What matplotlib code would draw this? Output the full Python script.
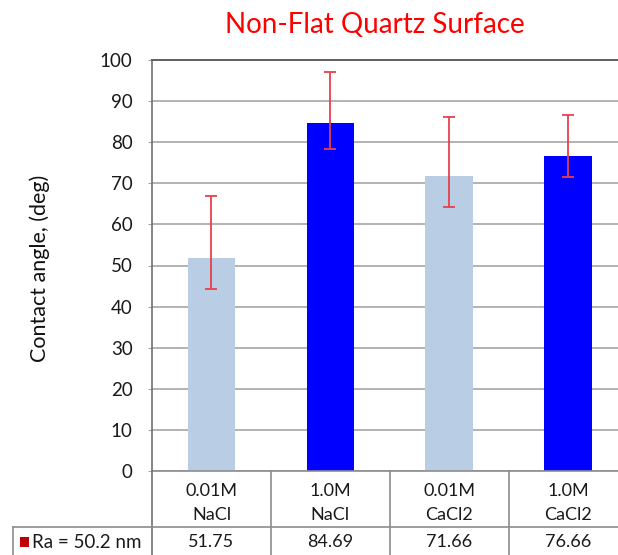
import matplotlib
matplotlib.use("Agg")
import matplotlib.pyplot as plt
from matplotlib.lines import Line2D
from matplotlib.patches import Rectangle
import matplotlib.transforms as mtransforms
import numpy as np

# Data
concentrations = ["0.01M", "1.0M", "0.01M", "1.0M"]
salts = ["NaCl", "NaCl", "CaCl2", "CaCl2"]
contact_angle = [51.75, 84.69, 71.66, 76.66]
err_low = [7.5, 6.4, 7.4, 5.1]
err_high = [15.2, 12.4, 14.4, 10.0]
series_name = "Ra = 50.2 nm"
yticks = [0, 10, 20, 30, 40, 50, 60, 70, 80, 90, 100]

bar_colors = ["#B9CDE5", "#0000FF", "#B9CDE5", "#0000FF"]
grid_col = "#A6A6A6"
table_col = "#8C8C8C"
FONT = "Lato"
TXT = "#1a1a1a"

W, H = 618, 555
fig = plt.figure(figsize=(W / 100, H / 100), dpi=100)

def fx(px):
    return px / W

def fy(py):
    return 1 - py / H

ax_left, ax_right, ax_top, ax_bot = 152, 627.5, 60, 471
ax = fig.add_axes([fx(ax_left), fy(ax_bot), fx(ax_right - ax_left), (ax_bot - ax_top) / H])

x = np.arange(len(contact_angle))
ax.bar(x, contact_angle, width=0.4, color=bar_colors, zorder=2)
ax.errorbar(x, contact_angle, yerr=[err_low, err_high], fmt="none",
            ecolor="#E8404C", elinewidth=1.3, capsize=4, capthick=1.3, zorder=3)

ax.set_xlim(-0.5, 3.5)
ax.set_ylim(0, 100)
ax.set_yticks(yticks)
ax.set_yticklabels([str(v) for v in yticks], fontsize=13.5, family=FONT, color=TXT)
ax.set_xticks([])
ax.yaxis.grid(True, color=grid_col, linewidth=1.2, zorder=0)
ax.set_axisbelow(True)
ax.tick_params(axis="y", direction="out", length=3, color=grid_col, pad=11)

ax.spines["right"].set_visible(False)
ax.spines["top"].set_color("#606060")
ax.spines["top"].set_linewidth(1.4)
ax.spines["left"].set_color("#707070")
ax.spines["left"].set_linewidth(1.2)
ax.spines["bottom"].set_color("#8C8C8C")
ax.spines["bottom"].set_linewidth(1.2)

fig.text(fx(40), fy(268), "Contact angle, (deg)", rotation=90, fontsize=15.5,
         family=FONT, color="#111111", ha="center", va="center")
fig.text(fx(375), fy(25), "Non-Flat Quartz Surface", color="#FF0000",
         fontsize=20, family=FONT, ha="center", va="center")

# Data table under the axis
blend = mtransforms.blended_transform_factory(ax.transData, fig.transFigure)
row_split = 527
for xv in np.arange(-0.5, 4.0, 1.0):
    fig.add_artist(Line2D([xv, xv], [fy(ax_bot), fy(H + 2)], transform=blend,
                          color=table_col if xv > -0.5 else "#707070", linewidth=1.2, clip_on=False))
fig.add_artist(Line2D([fx(13), 1.0], [fy(row_split), fy(row_split)],
                      transform=fig.transFigure, color=table_col, linewidth=1.2))
fig.add_artist(Line2D([fx(13), fx(13)], [fy(row_split), fy(H + 2)],
                      transform=fig.transFigure, color=table_col, linewidth=1.2))

for xi, (c, s, v) in enumerate(zip(concentrations, salts, contact_angle)):
    fig.text(xi, fy(491), c, transform=blend, ha="center", va="center",
             fontsize=13, family=FONT, color=TXT)
    fig.text(xi, fy(515), s, transform=blend, ha="center", va="center",
             fontsize=13, family=FONT, color=TXT)
    fig.text(xi, fy(542), f"{v:.2f}", transform=blend, ha="center", va="center",
             fontsize=13, family=FONT, color=TXT)

fig.add_artist(Rectangle((fx(20), fy(547)), fx(9), 10 / H, transform=fig.transFigure,
                         facecolor="#C00000", edgecolor="none"))
fig.text(fx(32), fy(542), series_name, ha="left", va="center",
         fontsize=13.5, family=FONT, color=TXT)

fig.savefig("out.png", dpi=100)
